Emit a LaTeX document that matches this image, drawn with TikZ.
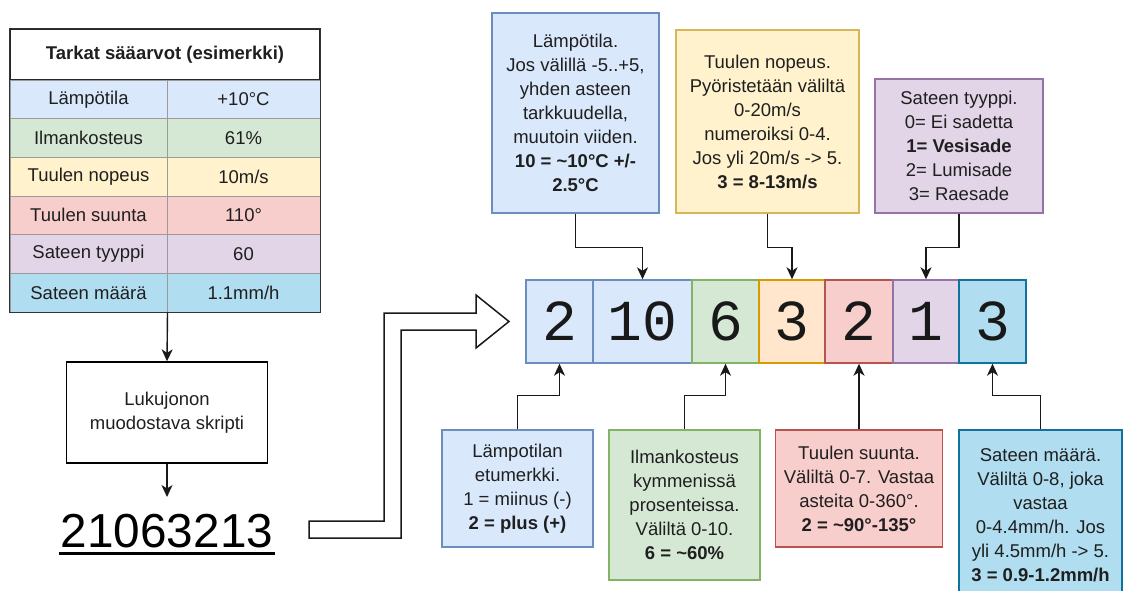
\documentclass[tikz,border=0pt]{standalone}
\usepackage{fontspec}
\setmainfont{Liberation Sans}
\newfontfamily\digitfont{Liberation Mono}
\usetikzlibrary{arrows.meta}

\definecolor{bluefill}{HTML}{DAE8FC}\definecolor{bluedraw}{HTML}{6C8EBF}
\definecolor{greenfill}{HTML}{D5E8D4}\definecolor{greendraw}{HTML}{82B366}
\definecolor{yellowfill}{HTML}{FFF2CC}\definecolor{yellowdraw}{HTML}{D6B656}
\definecolor{orangefill}{HTML}{FFE6CC}\definecolor{orangedraw}{HTML}{D79B00}
\definecolor{redfill}{HTML}{F8CECC}\definecolor{reddraw}{HTML}{B85450}
\definecolor{purplefill}{HTML}{E1D5E7}\definecolor{purpledraw}{HTML}{9673A6}
\definecolor{cyanfill}{HTML}{B1DDF0}\definecolor{cyandraw}{HTML}{10739E}
\definecolor{gridline}{HTML}{9A9A9A}

\begin{document}
\begin{tikzpicture}[x=1pt,y=-1pt,
  every node/.style={font=\fontsize{18.5}{24}\selectfont, text=black!88, align=center, inner sep=0pt},
  cell/.style={draw=gridline, line width=1pt, minimum height=38.67pt},
  lab/.style={cell, minimum width=157pt},
  val/.style={cell, minimum width=153pt},
  callout/.style={line width=1.4pt},
  digitbox/.style={line width=1.4pt, minimum height=83pt, font=\digitfont\fontsize{58}{60}\selectfont, text=black!90},
  arr/.style={-{Stealth[length=12pt,width=11pt,inset=3.5pt]}, line width=1.4pt, black!90}]
\useasboundingbox (0,0) rectangle (1127,590);
\clip (0,0) rectangle (1127,590);

% measured values table
\node[draw=black!85, line width=1.3pt, minimum width=310pt, minimum height=51pt, font=\bfseries\fontsize{18.5}{24}\selectfont] (hdr) at (165,54.5) {Tarkat sääarvot (esimerkki)};
\node[lab, fill=bluefill]   (l1) at (88.5,99.33)  {Lämpötila};
\node[val, fill=bluefill]   (v1) at (243.5,99.33) {+10°C};
\node[lab, fill=greenfill]  (l2) at (88.5,138)    {Ilmankosteus};
\node[val, fill=greenfill]  (v2) at (243.5,138)   {61\%};
\node[lab, fill=yellowfill] (l3) at (88.5,176.67) {Tuulen nopeus};
\node[val, fill=yellowfill] (v3) at (243.5,176.67){10m/s};
\node[lab, fill=redfill]    (l4) at (88.5,215.33) {Tuulen suunta};
\node[val, fill=redfill]    (v4) at (243.5,215.33){110°};
\node[lab, fill=purplefill] (l5) at (88.5,254)    {Sateen tyyppi};
\node[val, fill=purplefill] (v5) at (243.5,254)   {60};
\node[lab, fill=cyanfill]   (l6) at (88.5,292.67) {Sateen määrä};
\node[val, fill=cyanfill]   (v6) at (243.5,292.67){1.1mm/h};
\draw[black!80, line width=1.3pt] (hdr.north west) rectangle (v6.south east);

% script and the resulting number string
\node[draw, line width=1.4pt, minimum width=201pt, minimum height=101pt] (script) at (167,412.5) {Lukujonon\\muodostava skripti};
\node[anchor=north, inner ysep=16pt, inner xsep=0pt, text height=34pt, text depth=0pt, text=black, font=\fontsize{47.7}{50}\selectfont] (num) at (167,497) {21063213};
\draw[line width=2.4pt] ([xshift=-2pt,yshift=10pt]num.south west) -- ([xshift=2pt,yshift=10pt]num.south east);
\draw[arr] (l6.south east) -- (script.north);
\draw[arr] (script.south) -- (num.north);

% block arrow towards the digit row
\draw[line width=1.5pt, black!90, fill=white, line join=miter]
  (309,521) -- (384,521) -- (384,313) -- (476,313) -- (476,295) -- (509,321.5)
  -- (476,348) -- (476,330) -- (401,330) -- (401,538) -- (309,538) -- cycle;

% digit row
\node[digitbox, fill=bluefill,   draw=bluedraw,   minimum width=67pt] (d1) at (559.5,321.5) {2};
\node[digitbox, fill=bluefill,   draw=bluedraw,   minimum width=99pt] (d2) at (642.5,321.5) {10};
\node[digitbox, fill=greenfill,  draw=greendraw,  minimum width=67pt] (d3) at (725.5,321.5) {6};
\node[digitbox, fill=orangefill, draw=orangedraw, minimum width=66pt] (d4) at (792,321.5)   {3};
\node[digitbox, fill=redfill,    draw=reddraw,    minimum width=68pt] (d5) at (859,321.5)   {2};
\node[digitbox, fill=purplefill, draw=purpledraw, minimum width=66pt] (d6) at (926,321.5)   {1};
\node[digitbox, fill=cyanfill,   draw=cyandraw,   minimum width=67pt] (d7) at (992.5,321.5) {3};

% explanations above the row
\node[callout, fill=bluefill, draw=bluedraw, minimum width=167pt, minimum height=200pt] (tc1) at (575.5,113)
  {Lämpötila.\\Jos välillä -5..+5,\\yhden asteen\\tarkkuudella,\\muutoin viiden.\\\textbf{10 = \textasciitilde10°C +/-}\\\textbf{2.5°C}};
\node[callout, fill=yellowfill, draw=yellowdraw, minimum width=183pt, minimum height=183pt] (tc2) at (767.5,121.5)
  {Tuulen nopeus.\\Pyöristetään väliltä\\0-20m/s\\numeroiksi 0-4.\\Jos yli 20m/s -> 5.\\\textbf{3 = 8-13m/s}};
\node[callout, fill=purplefill, draw=purpledraw, minimum width=168pt, minimum height=134pt] (tc3) at (959,146)
  {Sateen tyyppi.\\0= Ei sadetta\\\textbf{1= Vesisade}\\2= Lumisade\\3= Raesade};

% explanations below the row
\node[callout, fill=bluefill, draw=bluedraw, minimum width=151pt, minimum height=117pt] (bc1) at (517.5,488.5)
  {Lämpotilan\\etumerkki.\\1 = miinus (-)\\\textbf{2 = plus (+)}};
\node[callout, fill=greenfill, draw=greendraw, minimum width=151pt, minimum height=150pt] (bc2) at (684.5,505)
  {Ilmankosteus\\kymmenissä\\prosenteissa.\\Väliltä 0-10.\\\textbf{6 = \textasciitilde60\%}};
\node[callout, fill=redfill, draw=reddraw, minimum width=167pt, minimum height=117pt] (bc3) at (859,488.5)
  {Tuulen suunta.\\Väliltä 0-7. Vastaa\\asteita 0-360°.\\\textbf{2 = \textasciitilde90°-135°}};
\node[callout, fill=cyanfill, draw=cyandraw, minimum width=163pt, minimum height=170pt] (bc4) at (1040.5,515)
  {Sateen määrä.\\Väliltä 0-8, joka\\vastaa\\0-4.4mm/h. Jos\\yli 4.5mm/h -> 5.\\\textbf{3 = 0.9-1.2mm/h}};

% connectors
\draw[arr] (tc1.south) -- ++(0,34) -| (d2.north);
\draw[arr] (tc2.south) -- ++(0,34) -| (d4.north);
\draw[arr] (tc3.south) -- ++(0,34) -| (d6.north);
\draw[arr] (bc1.north) -- ++(0,-34) -| (d1.south);
\draw[arr] (bc2.north) -- ++(0,-34) -| (d3.south);
\draw[arr] (bc3.north) -- (d5.south);
\draw[arr] (bc4.north) -- ++(0,-34) -| (d7.south);
\end{tikzpicture}
\end{document}
